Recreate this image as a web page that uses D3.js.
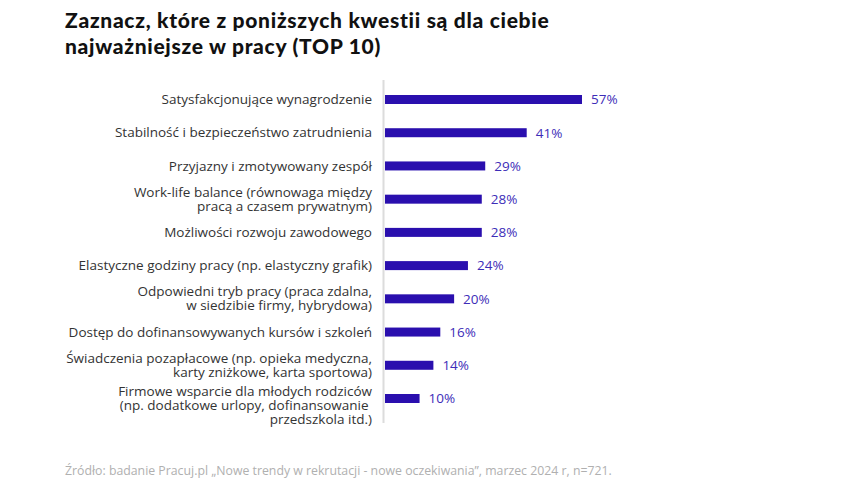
<!DOCTYPE html>
<html><head><meta charset="utf-8">
<script src="https://cdn.jsdelivr.net/npm/d3@7"></script>
<style>body{margin:0;background:#fff}svg{display:block}</style>
</head><body>
<svg id="chart" width="865" height="485"></svg>
<script>
const titleLines = ["Zaznacz, które z poniższych kwestii są dla ciebie", "najważniejsze w pracy (TOP 10)"];
const categories = [
  ["Satysfakcjonujące wynagrodzenie"],
  ["Stabilność i bezpieczeństwo zatrudnienia"],
  ["Przyjazny i zmotywowany zespół"],
  ["Work-life balance (równowaga między", "pracą a czasem prywatnym)"],
  ["Możliwości rozwoju zawodowego"],
  ["Elastyczne godziny pracy (np. elastyczny grafik)"],
  ["Odpowiedni tryb pracy (praca zdalna,", "w siedzibie firmy, hybrydowa)"],
  ["Dostęp do dofinansowywanych kursów i szkoleń"],
  ["Świadczenia pozapłacowe (np. opieka medyczna,", "karty zniżkowe, karta sportowa)"],
  ["Firmowe wsparcie dla młodych rodziców", "(np. dodatkowe urlopy, dofinansowanie ", "przedszkola itd.)"]
];
const values = [57, 41, 29, 28, 28, 24, 20, 16, 14, 10];
const source = "Źródło: badanie Pracuj.pl „Nowe trendy w rekrutacji - nowe oczekiwania”, marzec 2024 r, n=721.";

const svg = d3.select("#chart");
const ids = categories.map((c, i) => i);

const x = d3.scaleLinear().domain([0, 57]).range([385, 582]);
const y = d3.scalePoint().domain(ids).range([99.5, 398.5]);
const barH = 9;
const lh = 14;

// title
svg.append("g").selectAll("text").data(titleLines).join("text")
  .attr("x", 65).attr("y", (d, i) => 28 + i * 26)
  .attr("font-family", "Lato, sans-serif").attr("font-weight", 900)
  .attr("font-size", 21).attr("letter-spacing", 0.7)
  .attr("fill", "#111").text(d => d);

// axis line
svg.append("line").attr("x1", 383.5).attr("x2", 383.5).attr("y1", 80).attr("y2", 423)
  .attr("stroke", "#dcdcdc").attr("stroke-width", 2);

// bars
svg.append("g").selectAll("rect").data(values).join("rect")
  .attr("x", x(0)).attr("y", (d, i) => y(i) - barH / 2)
  .attr("width", d => x(d) - x(0)).attr("height", barH)
  .attr("fill", "#2a0fae");

// value labels
svg.append("g").selectAll("text").data(values).join("text")
  .attr("x", d => x(d) + 9).attr("y", (d, i) => y(i))
  .attr("dy", "0.36em")
  .attr("font-family", "'Open Sans', sans-serif").attr("font-size", 13.5)
  .attr("fill", "#3d2db8").text(d => d + "%");

// category labels (one text per line)
const lineData = [];
categories.forEach((lines, i) => {
  const off = lines.length > 1 ? -lh / 2 : 0;
  lines.forEach((l, j) => lineData.push({ i, text: l, dy: off + j * lh }));
});
svg.append("g").selectAll("text").data(lineData).join("text")
  .attr("x", 372).attr("y", d => y(d.i) + d.dy + 4.6)
  .attr("text-anchor", "end")
  .attr("xml:space", "preserve")
  .attr("font-family", "'Open Sans', sans-serif").attr("font-size", 13.5)
  .attr("fill", "#333").text(d => d.text);

// source
svg.append("text").attr("x", 65).attr("y", 475)
  .attr("font-family", "'Open Sans', sans-serif").attr("font-size", 12.3)
  .attr("fill", "#b0b0b0").text(source);
</script>
</body></html>
